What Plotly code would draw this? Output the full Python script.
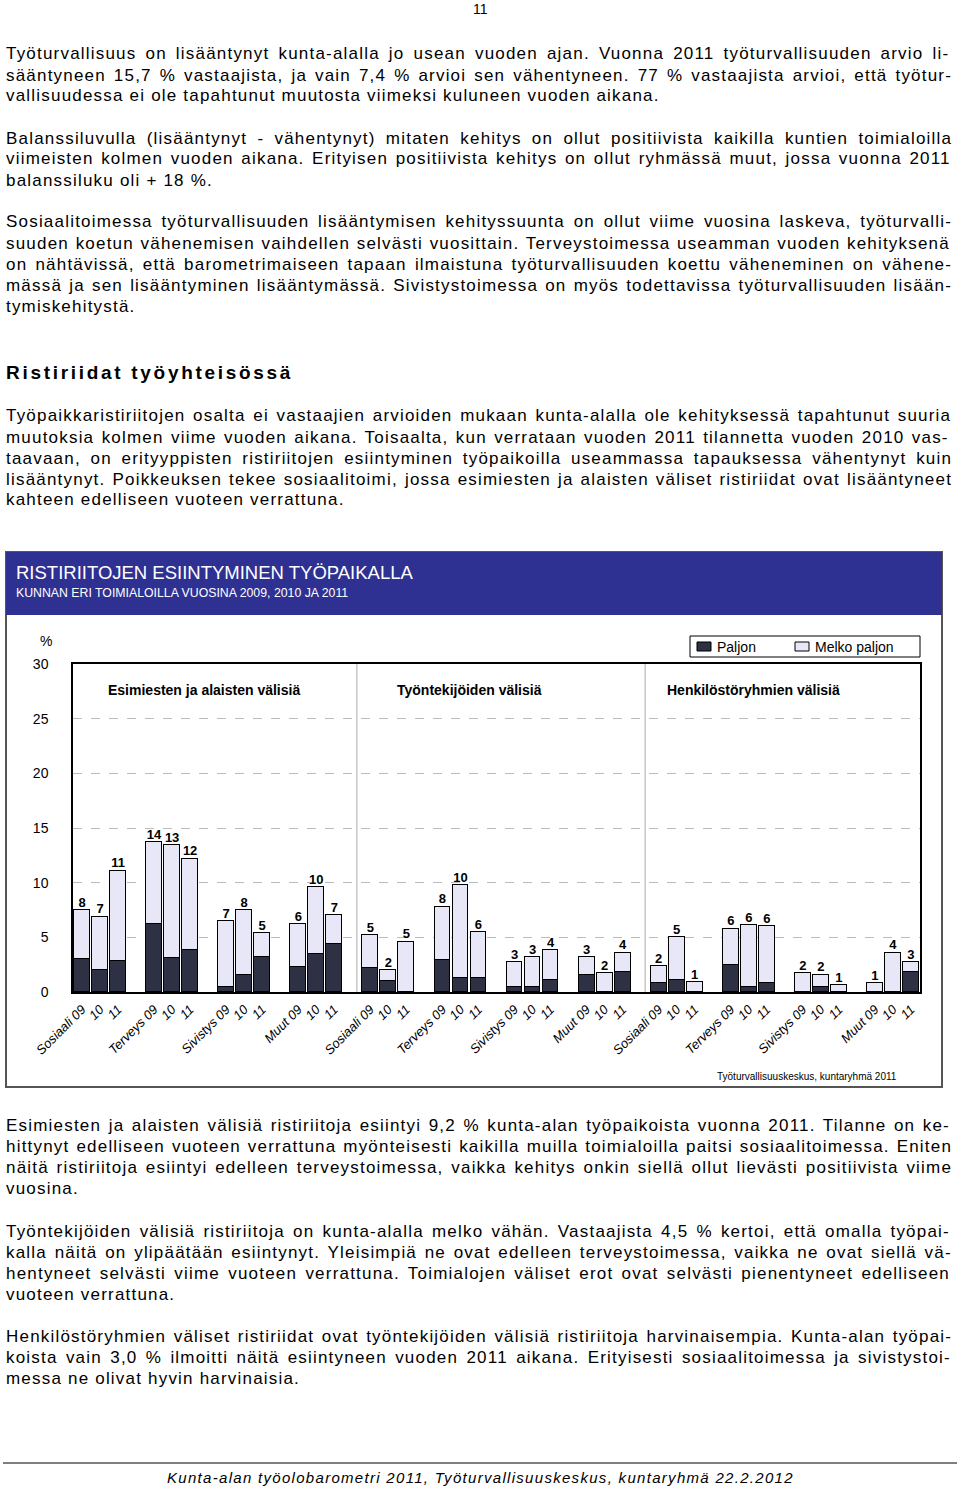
import plotly.graph_objects as go

W, H = 960, 1488

# ---------------- data ----------------
panels = ["Esimiesten ja alaisten välisiä", "Työntekijöiden välisiä", "Henkilöstöryhmien välisiä"]
sectors = ["Sosiaali", "Terveys", "Sivistys", "Muut"]
years = ["09", "10", "11"]

paljon = [3.0, 2.0, 2.8, 6.2, 3.1, 3.8, 0.5, 1.6, 3.2, 2.3, 3.5, 4.4,
          2.2, 1.0, 0.0, 2.9, 1.3, 1.3, 0.5, 0.5, 1.1, 1.6, 0.0, 1.8,
          0.8, 1.1, 0.0, 2.5, 0.5, 0.8, 0.0, 0.5, 0.0, 0.0, 0.0, 1.8]
melko_paljon = [4.5, 4.9, 8.3, 7.5, 10.3, 8.4, 6.0, 5.9, 2.2, 3.9, 6.1, 2.6,
                3.0, 1.0, 4.6, 4.9, 8.5, 4.2, 2.2, 2.7, 2.7, 1.6, 1.7, 1.8,
                1.6, 3.9, 0.9, 3.3, 5.6, 5.2, 1.7, 1.1, 0.6, 0.8, 3.6, 0.9]
labels = [8, 7, 11, 14, 13, 12, 7, 8, 5, 6, 10, 7,
          5, 2, 5, 8, 10, 6, 3, 3, 4, 3, 2, 4,
          2, 5, 1, 6, 6, 6, 2, 2, 1, 1, 4, 3]
y_ticks = [0, 5, 10, 15, 20, 25, 30]

# ---------------- helpers ----------------
def xp(px):
    return px / W

def yp(py):
    return 1 - py / H

# Arial / Liberation Sans advance widths (1/1000 em) for justification
ADV = {c: 556 for c in "abdeghnopquäöå0123456789"}
ADV.update({c: 500 for c in "cksvxyz"})
ADV.update({"f": 278, "t": 278, "i": 222, "j": 222, "l": 222, "m": 833, "r": 333, "w": 722,
            " ": 278, ",": 278, ".": 278, "-": 333, "%": 889, "(": 333, ")": 333, "+": 584, ":": 278,
            "A": 667, "B": 667, "C": 722, "D": 722, "E": 667, "F": 611, "G": 778, "H": 722, "I": 278,
            "J": 500, "K": 667, "L": 556, "M": 833, "N": 722, "O": 778, "P": 667, "R": 722, "S": 667,
            "T": 611, "U": 722, "V": 667, "W": 944, "Y": 667, "Z": 611})

def est_width(s, size, ls):
    return sum(ADV.get(c, 556) for c in s) * size / 1000 + ls * len(s)

# bar positions: 4 slots per sector group (3 bars + gap)
xpos, ticktext = [], []
for p in range(len(panels)):
    for s, sec in enumerate(sectors):
        for k, yr in enumerate(years):
            xpos.append((p * 4 + s) * 4 + k)
            ticktext.append(f"{sec} {yr}" if k == 0 else yr)
totals = [a + b for a, b in zip(paljon, melko_paljon)]

DARK = "#2D3143"
LIGHT = "#E7E7F8"
BLUE = "#2E3192"
CH = "Liberation Sans, Arial, sans-serif"
BODY = "Liberation Sans, Arial, sans-serif"

fig = go.Figure()
fig.add_trace(go.Bar(x=xpos, y=paljon, name="Paljon", width=0.88,
                     marker=dict(color=DARK, line=dict(color="black", width=1.5)),
                     showlegend=False))
fig.add_trace(go.Bar(x=xpos, y=melko_paljon, name="Melko paljon", width=0.88,
                     marker=dict(color=LIGHT, line=dict(color="black", width=1.5)),
                     showlegend=False))
fig.add_trace(go.Scatter(x=xpos, y=totals, mode="text", text=[str(v) for v in labels],
                         textposition="top center",
                         textfont=dict(family=CH, size=13, color="black", weight="bold"),
                         showlegend=False, hoverinfo="skip"))

fig.update_layout(
    width=W, height=H, margin=dict(l=0, r=0, t=0, b=0, pad=0, autoexpand=False),
    paper_bgcolor="white", plot_bgcolor="white",
    barmode="stack", bargap=0,
    xaxis=dict(domain=[xp(73), xp(920)], range=[-0.5, 46.5], automargin=False,
               tickvals=xpos, ticktext=ticktext, tickangle=-45,
               tickfont=dict(family=CH, size=13, color="black", style="italic"),
               ticklabelstandoff=3,
               showline=True, linecolor="black", linewidth=1.5, mirror=True,
               showgrid=False, zeroline=False, ticks=""),
    yaxis=dict(domain=[yp(992), yp(664)], range=[0, 30], automargin=False,
               tickvals=y_ticks, tickfont=dict(family=CH, size=14, color="black"),
               ticklabelstandoff=20,
               showline=True, linecolor="black", linewidth=1.5, mirror=True,
               showgrid=True, gridcolor="#BBBBBB", griddash="dash", gridwidth=1,
               zeroline=False, ticks=""),
)

shapes = []
annotations = []

def ann(text, x, y, anchor="left", size=14, family=CH, color="black", style="normal", weight="normal"):
    annotations.append(dict(text=text, x=xp(x), y=yp(y), xref="paper", yref="paper",
                            xanchor=anchor, yanchor="middle", showarrow=False,
                            borderpad=0, borderwidth=0,
                            font=dict(family=family, size=size, color=color,
                                      style=style, weight=weight)))

# chart frame and header
shapes.append(dict(type="rect", xref="paper", yref="paper", x0=xp(6), x1=xp(942),
                   y0=yp(1087), y1=yp(552), line=dict(color="#555555", width=2),
                   fillcolor="rgba(0,0,0,0)", layer="below"))
shapes.append(dict(type="rect", xref="paper", yref="paper", x0=xp(6), x1=xp(942),
                   y0=yp(615), y1=yp(552), line=dict(width=0), fillcolor=BLUE, layer="below"))
ann("RISTIRIITOJEN ESIINTYMINEN TYÖPAIKALLA", 16, 572, size=18.5, color="white")
ann("KUNNAN ERI TOIMIALOILLA VUOSINA 2009, 2010 JA 2011", 16, 593, size=12.3, color="white")

# panel dividers
for p in range(1, len(panels)):
    xd = p * 16 - 1 + 0.25
    shapes.append(dict(type="line", xref="x", yref="y", x0=xd, x1=xd, y0=0, y1=30,
                       line=dict(color="#C8C8C8", width=1.5)))

# panel titles
for title, px in zip(panels, [108, 397, 667]):
    ann(f"<b>{title}</b>", px, 690, size=14)

# % label
ann("%", 46, 641, anchor="center", size=14)

# legend
shapes.append(dict(type="rect", xref="paper", yref="paper", x0=xp(690), x1=xp(920),
                   y0=yp(657), y1=yp(636), line=dict(color="black", width=1), fillcolor="white"))
for name, col, sx in [("Paljon", DARK, 697), ("Melko paljon", LIGHT, 795)]:
    shapes.append(dict(type="rect", xref="paper", yref="paper", x0=xp(sx), x1=xp(sx + 14),
                       y0=yp(651), y1=yp(642), line=dict(color="black", width=1), fillcolor=col))
    ann(name, sx + 20, 646.5, size=14)

# source
ann("Työturvallisuuskeskus, kuntaryhmä 2011", 897, 1076, anchor="right", size=10)

# ---------------- page text ----------------
BODY_SIZE = 17
BODY_LS = 1.2
TARGET = 946

def body_line(text, y, justify):
    ws = 0.0
    if justify and text.count(" "):
        ws = (TARGET - est_width(text, BODY_SIZE, BODY_LS)) / text.count(" ")
    ann(f'<span style="letter-spacing:{BODY_LS}px;word-spacing:{ws:.2f}px">{text}</span>',
        6, y, size=BODY_SIZE, family=BODY)

ann("11", 480, 9, anchor="center", size=14)

paragraphs = [
    (54, ["Työturvallisuus on lisääntynyt kunta-alalla jo usean vuoden ajan. Vuonna 2011 työturvallisuuden arvio li-",
          "sääntyneen 15,7 % vastaajista, ja vain 7,4 % arvioi sen vähentyneen. 77 % vastaajista arvioi, että työtur-",
          "vallisuudessa ei ole tapahtunut muutosta viimeksi kuluneen vuoden aikana."]),
    (138, ["Balanssiluvulla (lisääntynyt - vähentynyt) mitaten kehitys on ollut positiivista kaikilla kuntien toimialoilla",
           "viimeisten kolmen vuoden aikana. Erityisen positiivista kehitys on ollut ryhmässä muut, jossa vuonna 2011",
           "balanssiluku oli + 18 %."]),
    (222, ["Sosiaalitoimessa työturvallisuuden lisääntymisen kehityssuunta on ollut viime vuosina laskeva, työturvalli-",
           "suuden koetun vähenemisen vaihdellen selvästi vuosittain. Terveystoimessa useamman vuoden kehityksenä",
           "on nähtävissä, että barometrimaiseen tapaan ilmaistuna työturvallisuuden koettu väheneminen on vähene-",
           "mässä ja sen lisääntyminen lisääntymässä. Sivistystoimessa on myös todettavissa työturvallisuuden lisään-",
           "tymiskehitystä."]),
    (416, ["Työpaikkaristiriitojen osalta ei vastaajien arvioiden mukaan kunta-alalla ole kehityksessä tapahtunut suuria",
           "muutoksia kolmen viime vuoden aikana. Toisaalta, kun verrataan vuoden 2011 tilannetta vuoden 2010 vas-",
           "taavaan, on erityyppisten ristiriitojen esiintyminen työpaikoilla useammassa tapauksessa vähentynyt kuin",
           "lisääntynyt. Poikkeuksen tekee sosiaalitoimi, jossa esimiesten ja alaisten väliset ristiriidat ovat lisääntyneet",
           "kahteen edelliseen vuoteen verrattuna."]),
    (1125, ["Esimiesten ja alaisten välisiä ristiriitoja esiintyi 9,2 % kunta-alan työpaikoista vuonna 2011. Tilanne on ke-",
            "hittynyt edelliseen vuoteen verrattuna myönteisesti kaikilla muilla toimialoilla paitsi sosiaalitoimessa. Eniten",
            "näitä ristiriitoja esiintyi edelleen terveystoimessa, vaikka kehitys onkin siellä ollut lievästi positiivista viime",
            "vuosina."]),
    (1231, ["Työntekijöiden välisiä ristiriitoja on kunta-alalla melko vähän. Vastaajista 4,5 % kertoi, että omalla työpai-",
            "kalla näitä on ylipäätään esiintynyt. Yleisimpiä ne ovat edelleen terveystoimessa, vaikka ne ovat siellä vä-",
            "hentyneet selvästi viime vuoteen verrattuna. Toimialojen väliset erot ovat selvästi pienentyneet edelliseen",
            "vuoteen verrattuna."]),
    (1336, ["Henkilöstöryhmien väliset ristiriidat ovat työntekijöiden välisiä ristiriitoja harvinaisempia. Kunta-alan työpai-",
            "koista vain 3,0 % ilmoitti näitä esiintyneen vuoden 2011 aikana. Erityisesti sosiaalitoimessa ja sivistystoi-",
            "messa ne olivat hyvin harvinaisia."]),
]
for y0, lines in paragraphs:
    for i, t in enumerate(lines):
        body_line(t, y0 + 21 * i, justify=(i < len(lines) - 1))

ann('<span style="letter-spacing:2.7px">Ristiriidat työyhteisössä</span>', 6, 372, size=19,
    weight="bold")

shapes.append(dict(type="line", xref="paper", yref="paper", x0=xp(3), x1=xp(957),
                   y0=yp(1463), y1=yp(1463), line=dict(color="black", width=1.2)))
ann('<span style="letter-spacing:1.3px">Kunta-alan työolobarometri 2011, Työturvallisuuskeskus, kuntaryhmä 22.2.2012</span>',
    480, 1477, anchor="center", size=15, style="italic")

fig.update_layout(shapes=shapes, annotations=annotations)
fig.write_html("out.html", config={"displayModeBar": False},
               post_script="document.body.style.margin='0';document.body.style.padding='0';")
